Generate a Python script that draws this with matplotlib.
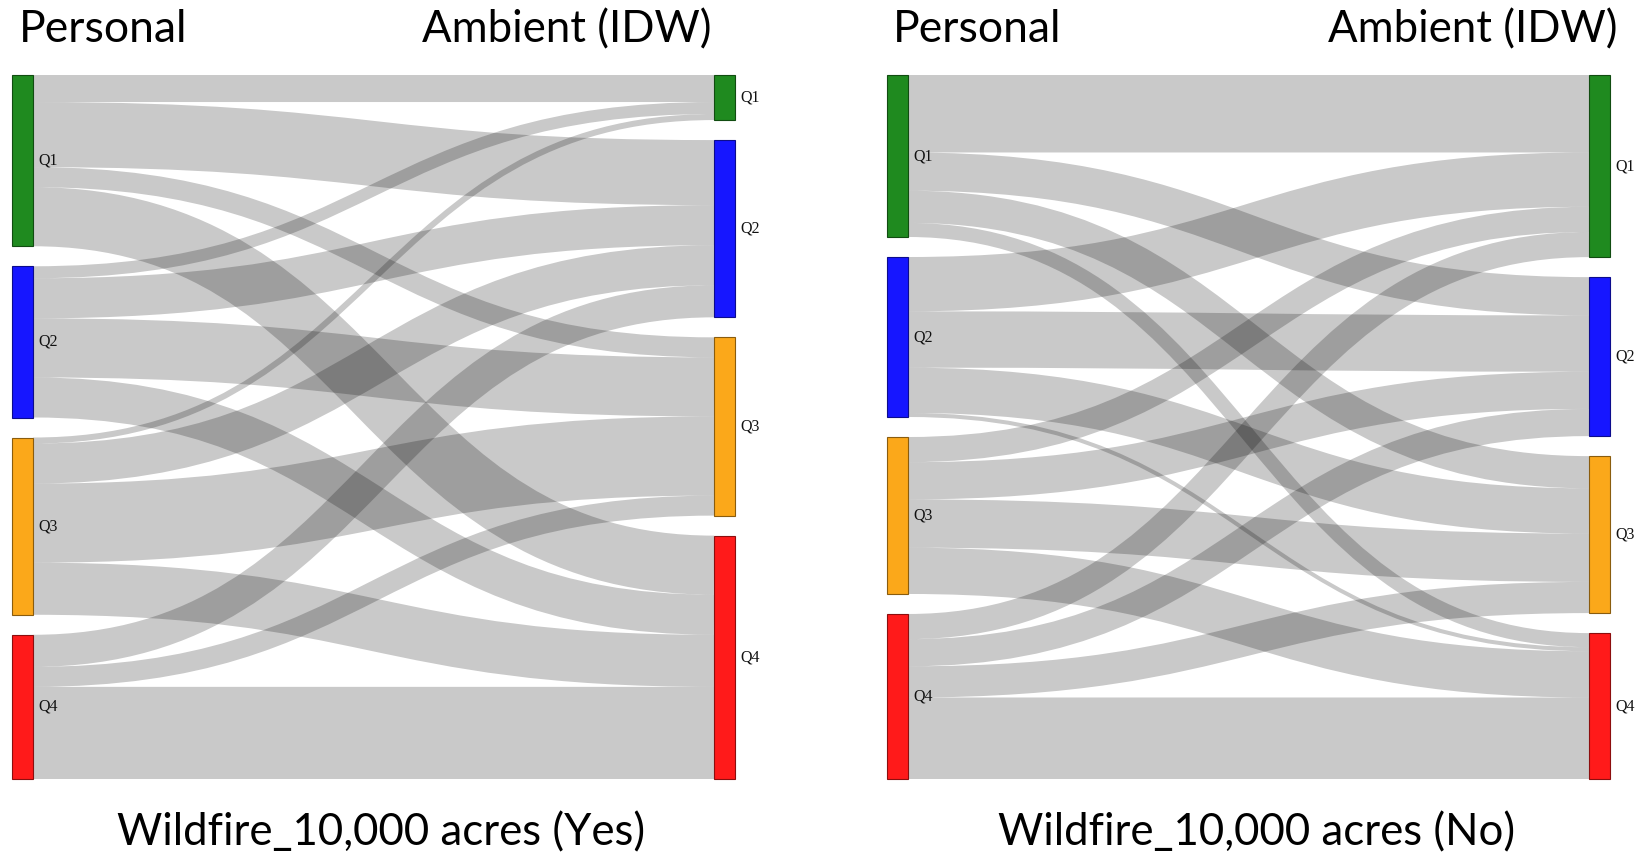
import matplotlib
matplotlib.use("Agg")
import matplotlib.pyplot as plt
from matplotlib.path import Path
from matplotlib.patches import PathPatch, Rectangle
from matplotlib.colors import to_rgb

# ---------------------------------------------------------------- data
quartiles = ["Q1", "Q2", "Q3", "Q4"]
node_colors = ["#1f8a1f", "#1616ff", "#fba81a", "#ff1a1a"]

# rows: personal exposure quartile, columns: ambient (IDW) quartile
flows_yes = [
    [27, 65, 20, 59],
    [12, 40, 59, 40],
    [6, 40, 79, 52],
    [0, 32, 20, 92],
]
flows_no = [
    [77, 38, 32, 14],
    [54, 56, 45, 4],
    [25, 37, 48, 46],
    [25, 27, 31, 81],
]
panel_captions = ["Wildfire_10,000 acres (Yes)", "Wildfire_10,000 acres (No)"]
left_header = "Personal"
right_header = "Ambient (IDW)"

# ---------------------------------------------------------------- layout
W, H, DPI = 1641, 858, 100
NODE_W = 21
TOP, BOTTOM, GAP = 75, 779, 20
PANELS = [(12, 735), (887, 1610)]          # x extent of each diagram
HEADER_X = [(19, 712), (893, 1617)]        # left / right header anchors
LINK_ALPHA = 0.21

fig = plt.figure(figsize=(W / DPI, H / DPI), dpi=DPI)
ax = fig.add_axes([0, 0, 1, 1])
ax.set_xlim(0, W)
ax.set_ylim(H, 0)
ax.axis("off")


def darker(c, k=0.55):
    r, g, b = to_rgb(c)
    return (r * k, g * k, b * k)


def stack(values, scale):
    pos, y = [], TOP
    for v in values:
        pos.append((y, y + v * scale))
        y += v * scale + GAP
    return pos


def draw_sankey(flows, x0, x1):
    n = len(flows)
    out_tot = [sum(r) for r in flows]
    in_tot = [sum(flows[i][j] for i in range(n)) for j in range(n)]
    total = sum(out_tot)
    scale = (BOTTOM - TOP - GAP * (n - 1)) / total
    src_nodes = stack(out_tot, scale)
    dst_nodes = stack(in_tot, scale)

    xs = x0 + NODE_W          # right edge of source column
    xt = x1 - NODE_W          # left edge of target column
    xm = (xs + xt) / 2

    # source side: links leave each node ordered by target
    src_mid = {}
    for i in range(n):
        y = src_nodes[i][0]
        for j in range(n):
            w = flows[i][j] * scale
            src_mid[i, j] = y + w / 2
            y += w
    # target side: links enter each node ordered by source
    dst_mid = {}
    for j in range(n):
        y = dst_nodes[j][0]
        for i in range(n):
            w = flows[i][j] * scale
            dst_mid[i, j] = y + w / 2
            y += w

    for i in range(n):
        for j in range(n):
            w = flows[i][j] * scale
            if w <= 0:
                continue
            ys, yt = src_mid[i, j], dst_mid[i, j]
            path = Path([(xs, ys), (xm, ys), (xm, yt), (xt, yt)],
                        [Path.MOVETO, Path.CURVE4, Path.CURVE4, Path.CURVE4])
            ax.add_patch(PathPatch(path, fill=False,
                                   edgecolor=(0, 0, 0, LINK_ALPHA),
                                   linewidth=w * 72 / DPI,
                                   capstyle="butt", zorder=1))

    for col_x, nodes in ((x0, src_nodes), (xt, dst_nodes)):
        for k, (a, b) in enumerate(nodes):
            ax.add_patch(Rectangle((col_x, a), NODE_W, b - a,
                                   facecolor=node_colors[k],
                                   edgecolor=darker(node_colors[k]),
                                   linewidth=0.8, zorder=2))
            ax.text(col_x + NODE_W + 5, (a + b) / 2, quartiles[k],
                    family="Liberation Serif", fontsize=11.5,
                    ha="left", va="center", color="#111111", zorder=3)


for (x0, x1), (hl, hr), flows, caption in zip(PANELS, HEADER_X,
                                              [flows_yes, flows_no],
                                              panel_captions):
    draw_sankey(flows, x0, x1)
    ax.text(hl, 42, left_header, family="Lato", fontsize=32,
            ha="left", va="baseline", color="black")
    ax.text(hr, 42, right_header, family="Lato",
            fontsize=31.5, ha="right", va="baseline", color="black")
    ax.text((x0 + x1) / 2 + 8, 845, caption, family="Lato", fontsize=31.5,
            ha="center", va="baseline", color="black")

fig.savefig("out.png", dpi=DPI, facecolor="white")
